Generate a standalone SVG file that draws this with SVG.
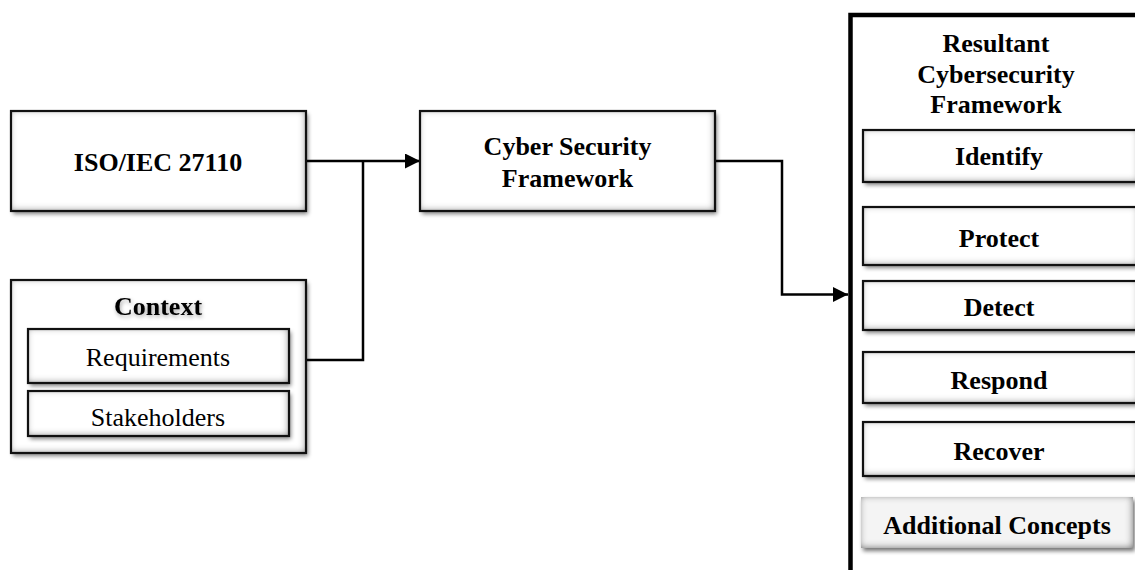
<svg xmlns="http://www.w3.org/2000/svg" width="1135" height="570" viewBox="0 0 1135 570">
  <defs>
    <style>
      .t { font-family: "Liberation Serif", "Times New Roman", serif; font-size: 26px; fill: #000; text-anchor: middle; }
      .b { font-weight: bold; }
      .fill { fill: #fff; filter: url(#bevel); }
      .fillGrey { fill: #f4f4f4; filter: url(#bevelStrong); }
      .edge { fill: none; stroke: #111; stroke-width: 2.2; }
      .frame { fill: none; stroke: #000; stroke-width: 4.5; }
      .wire { fill: none; stroke: #000; stroke-width: 2.5; }
    </style>
    <!-- soft drop shadow plus shaded inner rim -->
    <filter id="bevel" x="-10%" y="-20%" width="125%" height="150%">
      <feGaussianBlur in="SourceAlpha" stdDeviation="2" result="blur"/>
      <feOffset in="blur" dx="2" dy="3" result="off"/>
      <feComponentTransfer in="off" result="shadow"><feFuncA type="linear" slope="0.5"/></feComponentTransfer>
      <feGaussianBlur in="SourceAlpha" stdDeviation="3.5" result="blur2"/>
      <feOffset in="blur2" dx="-1.5" dy="-1.5" result="blur3"/>
      <feComposite in="SourceAlpha" in2="blur3" operator="out" result="rim"/>
      <feFlood flood-color="#7a7a7a"/>
      <feComposite in2="rim" operator="in" result="rimColor"/>
      <feMerge><feMergeNode in="shadow"/><feMergeNode in="SourceGraphic"/><feMergeNode in="rimColor"/></feMerge>
    </filter>
    <filter id="bevelStrong" x="-10%" y="-20%" width="125%" height="150%">
      <feGaussianBlur in="SourceAlpha" stdDeviation="2" result="blur"/>
      <feOffset in="blur" dx="2" dy="3" result="off"/>
      <feComponentTransfer in="off" result="shadow"><feFuncA type="linear" slope="0.55"/></feComponentTransfer>
      <feGaussianBlur in="SourceAlpha" stdDeviation="3.5" result="blur2"/>
      <feOffset in="blur2" dx="-1.5" dy="-1.5" result="blur3"/>
      <feComposite in="SourceAlpha" in2="blur3" operator="out" result="rim"/>
      <feFlood flood-color="#6a6a6a"/>
      <feComposite in2="rim" operator="in" result="rimColor"/>
      <feMerge><feMergeNode in="shadow"/><feMergeNode in="SourceGraphic"/><feMergeNode in="rimColor"/></feMerge>
    </filter>
    <filter id="glow" x="-20%" y="-40%" width="140%" height="180%">
      <feGaussianBlur in="SourceAlpha" stdDeviation="2" result="g"/>
      <feOffset in="g" dx="1" dy="2" result="go"/>
      <feComponentTransfer in="go" result="gf"><feFuncA type="linear" slope="0.35"/></feComponentTransfer>
      <feMerge><feMergeNode in="gf"/><feMergeNode in="SourceGraphic"/></feMerge>
    </filter>
    <marker id="arrow" viewBox="0 0 10 10" refX="10" refY="5" markerUnits="userSpaceOnUse" markerWidth="15" markerHeight="15" orient="auto">
      <path d="M0,0 L10,5 L0,10 Z" fill="#000"/>
    </marker>
  </defs>

  <rect width="1135" height="570" fill="#fff"/>

  <!-- connectors -->
  <g id="connectors">
    <path class="wire" d="M306,161 H420" marker-end="url(#arrow)"/>
    <path class="wire" d="M306,360 H363 V161"/>
    <path class="wire" d="M715,161 H782 V294.5 H848" marker-end="url(#arrow)"/>
  </g>

  <g id="iso">
    <rect class="fill" x="11" y="111" width="295" height="100"/>
    <rect class="edge" x="11" y="111" width="295" height="100"/>
    <text class="t b" x="158" y="171">ISO/IEC 27110</text>
  </g>

  <g id="context">
    <rect class="fill" x="11" y="280" width="295" height="173"/>
    <rect class="edge" x="11" y="280" width="295" height="173"/>
    <text class="t b" x="158" y="315" filter="url(#glow)">Context</text>
    <g id="requirements">
      <rect class="fill" x="28" y="329" width="261" height="54"/>
      <rect class="edge" x="28" y="329" width="261" height="54"/>
      <text class="t" x="158" y="366">Requirements</text>
    </g>
    <g id="stakeholders">
      <rect class="fill" x="28" y="391" width="261" height="45"/>
      <rect class="edge" x="28" y="391" width="261" height="45"/>
      <text class="t" x="158" y="426">Stakeholders</text>
    </g>
  </g>

  <g id="csf">
    <rect class="fill" x="420" y="111" width="295" height="100"/>
    <rect class="edge" x="420" y="111" width="295" height="100"/>
    <text class="t b" x="567.5" y="155">Cyber Security</text>
    <text class="t b" x="567.5" y="187">Framework</text>
  </g>

  <g id="resultant">
    <rect class="frame" x="850.5" y="15" width="300" height="580"/>
    <text class="t b" x="996" y="52">Resultant</text>
    <text class="t b" x="996" y="83">Cybersecurity</text>
    <text class="t b" x="996" y="113">Framework</text>

    <g id="identify">
      <rect class="fill" x="863" y="130" width="276" height="52"/>
      <rect class="edge" x="863" y="130" width="276" height="52"/>
      <text class="t b" x="999" y="165">Identify</text>
    </g>
    <g id="protect">
      <rect class="fill" x="863" y="207" width="276" height="58"/>
      <rect class="edge" x="863" y="207" width="276" height="58"/>
      <text class="t b" x="999" y="247">Protect</text>
    </g>
    <g id="detect">
      <rect class="fill" x="863" y="281" width="276" height="49"/>
      <rect class="edge" x="863" y="281" width="276" height="49"/>
      <text class="t b" x="999" y="316">Detect</text>
    </g>
    <g id="respond">
      <rect class="fill" x="863" y="352" width="276" height="51"/>
      <rect class="edge" x="863" y="352" width="276" height="51"/>
      <text class="t b" x="999" y="389">Respond</text>
    </g>
    <g id="recover">
      <rect class="fill" x="863" y="422" width="276" height="54"/>
      <rect class="edge" x="863" y="422" width="276" height="54"/>
      <text class="t b" x="999" y="460">Recover</text>
    </g>
    <g id="additional">
      <rect class="fillGrey" x="861" y="497" width="272" height="51"/>
      <text class="t b" x="997" y="534">Additional Concepts</text>
    </g>
  </g>
</svg>
